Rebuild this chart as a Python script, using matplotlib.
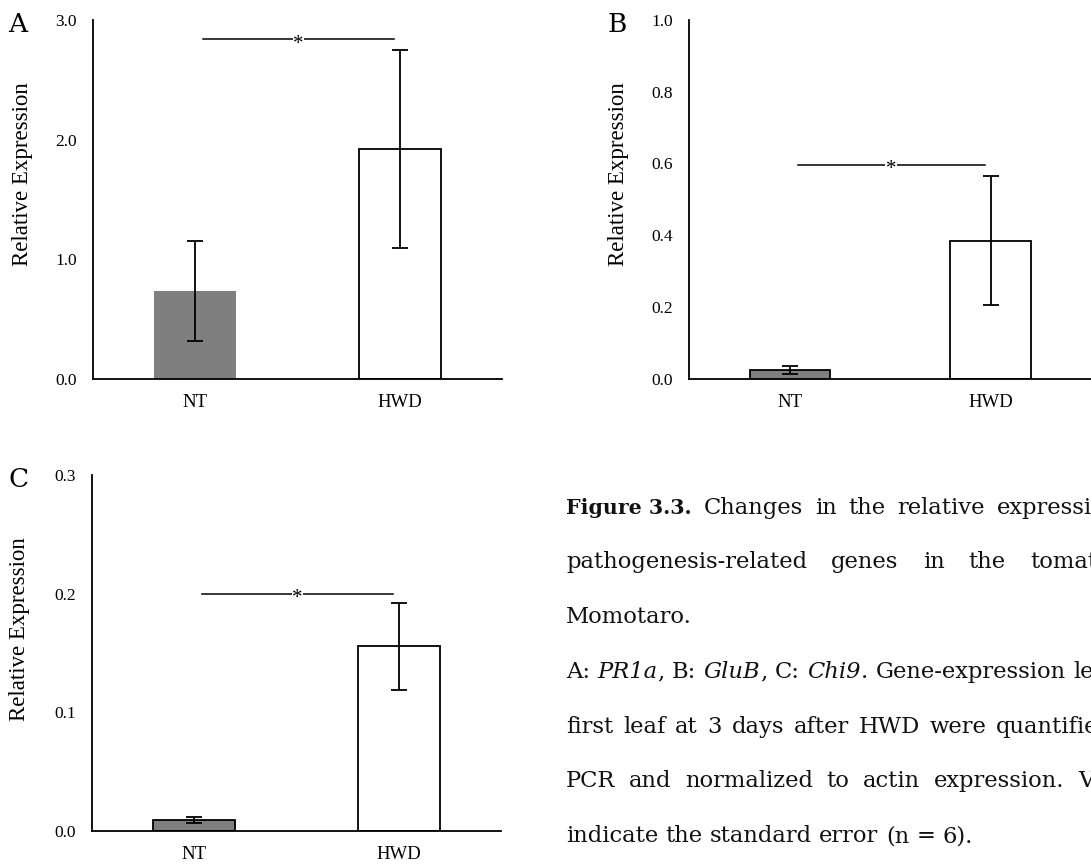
import matplotlib
matplotlib.use("Agg")
import matplotlib.pyplot as plt
from matplotlib.transforms import offset_copy

W, H = 1091, 866

# ---------------- data ----------------
categories = ["NT", "HWD"]
pr1a_mean = [0.733, 1.92]
pr1a_se = [0.42, 0.83]
glub_mean = [0.024, 0.385]
glub_se = [0.0105, 0.18]
chi9_mean = [0.009, 0.1555]
chi9_se = [0.0024, 0.0365]
y_max = [3.0, 1.0, 0.3]
y_step = [1.0, 0.2, 0.1]
sig_y = [2.84, 0.596, 0.2]
panel_letters = ["A", "B", "C"]
y_label = "Relative Expression"

caption_lines = [
    [[("Figure 3.3.", "b")], [("Changes", "n")], [("in", "n")], [("the", "n")],
     [("relative", "n")], [("expressi", "n")]],
    [[("pathogenesis-related", "n")], [("genes", "n")], [("in", "n")],
     [("the", "n")], [("tomat", "n")]],
    [[("Momotaro.", "n")]],
    [[("A:", "n")], [("PR1a", "i"), (",", "n")], [("B:", "n")],
     [("GluB", "i"), (",", "n")], [("C:", "n")], [("Chi9", "i"), (".", "n")],
     [("Gene-expression", "n")], [("le", "n")]],
    [[(w, "n")] for w in "first leaf at 3 days after HWD were quantifie".split()],
    [[(w, "n")] for w in "PCR and normalized to actin expression. V".split()],
    [[(w, "n")] for w in "indicate the standard error (n = 6).".split()],
]

# ---------------- layout ----------------
fig = plt.figure(figsize=(W / 100, H / 100), dpi=100)
fig.patch.set_facecolor("white")


def px_axes(l, r, t, b):
    return fig.add_axes([l / W, 1 - b / H, (r - l) / W, (b - t) / H])


axes_px = [(93, 502, 20, 378.7), (689.3, 1091, 20, 378.7), (92, 501, 475, 830.7)]
label_coords = [(-0.147, 0.571), (-0.150, 0.571), (-0.152, 0.568)]
letter_pos = [(8, 32), (608, 32), (8, 487)]
means = [pr1a_mean, glub_mean, chi9_mean]
ses = [pr1a_se, glub_se, chi9_se]

GRAY = "#7f7f7f"
SERIF = "Liberation Serif"

for i in range(3):
    ax = px_axes(*axes_px[i])
    x = list(range(len(categories)))
    edge_nt = "none" if i == 0 else "black"
    ax.bar(x, means[i], width=0.4, color=[GRAY, "white"],
           edgecolor=[edge_nt, "black"], linewidth=1.3, zorder=2)
    ax.errorbar(x, means[i], yerr=ses[i], fmt="none", ecolor="black",
                elinewidth=1.3, capsize=5.5, capthick=1.3, zorder=3)
    # significance line with asterisk
    ax.plot([0.04, 0.97], [sig_y[i], sig_y[i]], color="black", lw=1.1, zorder=3)
    star_tr = offset_copy(ax.transData, fig=fig, y=-6.8, units="points")
    ax.text(0.505, sig_y[i], "*", ha="center", va="baseline", transform=star_tr,
            fontsize=15, fontfamily=SERIF, zorder=4,
            bbox=dict(facecolor="white", edgecolor="none", pad=0.3))
    ax.set_xlim(-0.5, 1.5)
    ax.set_ylim(0, y_max[i])
    n = int(round(y_max[i] / y_step[i]))
    ticks = [k * y_step[i] for k in range(n + 1)]
    ax.set_yticks(ticks)
    ax.set_yticklabels([f"{t:.1f}" for t in ticks], fontfamily=SERIF, fontsize=12.5)
    ax.set_xticks(x)
    ax.set_xticklabels(categories, fontfamily=SERIF, fontsize=13.5)
    ax.tick_params(axis="y", length=0, pad=11.5)
    ax.tick_params(axis="x", length=0, pad=11)
    for s in ["top", "right"]:
        ax.spines[s].set_visible(False)
    for s in ["left", "bottom"]:
        ax.spines[s].set_linewidth(1.3)
        ax.spines[s].set_color("black")
    ax.set_ylabel(y_label, fontfamily=SERIF, fontsize=16.5)
    ax.yaxis.set_label_coords(*label_coords[i])
    ax.set_facecolor("none")
    lx, ly = letter_pos[i]
    fig.text(lx / W, 1 - ly / H, panel_letters[i], fontfamily="DejaVu Serif",
             fontsize=19, va="baseline", ha="left")

# ---------------- caption ----------------
renderer = fig.canvas.get_renderer()
CAP_FS = 16.3
BOLD_FS = 14.8
CAP_COLOR = "#111111"


def make(txt, xp, yp, st):
    return fig.text(xp / W, 1 - yp / H, txt, fontfamily="DejaVu Serif",
                    fontsize=BOLD_FS if st == "b" else CAP_FS, color=CAP_COLOR,
                    fontweight="bold" if st == "b" else "normal",
                    fontstyle="italic" if st == "i" else "normal",
                    va="baseline", ha="left")


def width_of(txt, st):
    t = make("|" + txt + "|", 0, 0, st)
    w = t.get_window_extent(renderer).width
    t.remove()
    t2 = make("||", 0, 0, st)
    w2 = t2.get_window_extent(renderer).width
    t2.remove()
    return w - w2


space_w = width_of(" ", "n")


def draw_line(yp, groups, x0=566, last_x=None):
    widths = [sum(width_of(t, s) for t, s in g) for g in groups]
    starts = []
    xcur = x0
    for w in widths:
        starts.append(xcur)
        xcur += w + space_w
    extra = 0
    if last_x is not None and len(groups) > 1:
        extra = (last_x - starts[-1]) / (len(groups) - 1)
    for k, g in enumerate(groups):
        xp = starts[k] + extra * k
        for t, s in g:
            make(t, xp, yp, s)
            xp += width_of(t, s)


baselines = [514, 568, 623, 678, 733, 787, 842]
last_targets = [997, 1030, None, 1073, 996, 1078, None]
for line, yb, lt in zip(caption_lines, baselines, last_targets):
    draw_line(yb, line, last_x=lt)

fig.savefig("out.png", dpi=100, facecolor="white")
